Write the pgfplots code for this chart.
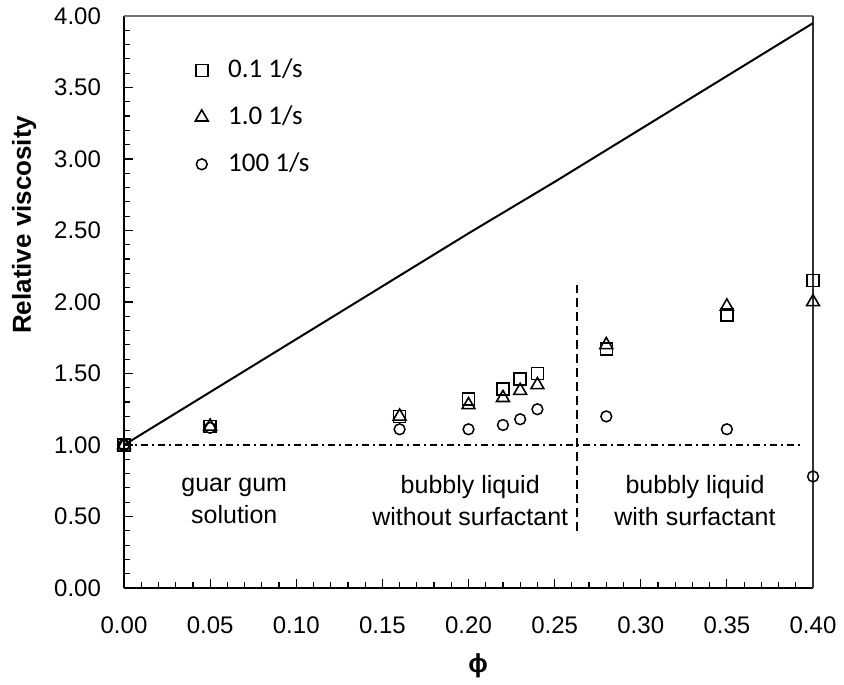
\documentclass[border=0pt]{standalone}
\usepackage{fontspec}
\setmainfont{Liberation Sans}
\newfontfamily\carlito{Carlito}
\usepackage{pgfplots}
\pgfplotsset{compat=1.18}
\begin{document}
\begin{tikzpicture}
\begin{axis}[
  scale only axis, width=344.5pt, height=286pt,
  xmin=0, xmax=0.4, ymin=0, ymax=4, enlargelimits=false, clip=false,
  axis lines=left, axis line style={-, line width=0.75pt, black},
  xtick={0,0.05,0.1,0.15,0.2,0.25,0.3,0.35,0.4},
  ytick={0,0.5,1,1.5,2,2.5,3,3.5,4},
  minor x tick num=4, minor y tick num=4,
  tick align=inside, major tick length=4.5pt, minor tick length=3pt,
  every tick/.style={black, line width=0.6pt},
  /pgf/number format/assume math mode=true,
  /pgf/number format/.cd, fixed, fixed zerofill, precision=2, /pgfplots/.cd,
  tick label style={font=\fontsize{12}{14}\selectfont},
  xticklabel style={yshift=-11pt},
  yticklabel style={xshift=-8pt},
  xlabel={\textbf{ϕ}},
  xlabel style={at={(axis description cs:0.514,0)}, anchor=center, yshift=-39pt, font=\fontsize{13}{15}\selectfont},
  ylabel={\textbf{Relative viscosity}},
  ylabel style={at={(axis description cs:-0.145,0.635)}, anchor=center, font=\fontsize{13}{15}\selectfont},
  legend style={at={(axis description cs:0.103,0.925)}, anchor=north west, draw=none, fill=none,
    inner sep=0pt, row sep=12.5pt, column sep=0pt,
    font=\carlito\fontsize{13.5}{15}\selectfont,
    nodes={inner sep=0pt, text height=9pt, text depth=2pt}},
  legend cell align=left,
  legend image code/.code={\draw[#1] plot coordinates {(3pt,0pt)}; \path (0pt,0pt) (16pt,0pt);},
]
% top and right border
\draw[black!55, line width=0.75pt] (rel axis cs:0,1) -- (rel axis cs:1,1);
\draw[black!80, line width=0.75pt] (rel axis cs:1,1) -- (rel axis cs:1,0);
% bounding box helpers
\coordinate (bbsw) at ([xshift=-62pt,yshift=-47pt]rel axis cs:0,0);
\coordinate (bbne) at ([xshift=15.5pt,yshift=8pt]rel axis cs:1,1);

\addplot[only marks, mark=square, mark size=3pt, mark options={line width=0.75pt, black}] coordinates {
(0,1.00) (0.05,1.13) (0.16,1.20) (0.20,1.32) (0.22,1.39) (0.23,1.46) (0.24,1.50) (0.28,1.67) (0.35,1.91) (0.40,2.15)};
\addlegendentry{0.1 1/s}
\addplot[only marks, mark=triangle, mark size=3.7pt, mark options={line width=0.8pt, black}] coordinates {
(0,1.00) (0.05,1.13) (0.16,1.20) (0.20,1.28) (0.22,1.33) (0.23,1.38) (0.24,1.42) (0.28,1.70) (0.35,1.97) (0.40,2.00)};
\addlegendentry{1.0 1/s}
\addplot[only marks, mark=o, mark size=2.7pt, mark options={line width=0.75pt, black}] coordinates {
(0,1.00) (0.05,1.12) (0.16,1.11) (0.20,1.11) (0.22,1.14) (0.23,1.18) (0.24,1.25) (0.28,1.20) (0.35,1.11) (0.40,0.78)};
\addlegendentry{100 1/s}

\addplot[black, line width=1pt, forget plot] coordinates {
(0,1.00) (0.05,1.37) (0.10,1.74) (0.15,2.11) (0.20,2.48) (0.25,2.84) (0.30,3.21) (0.35,3.58) (0.40,3.95)};
\addplot[black, line width=0.75pt, dash pattern=on 3.5pt off 2pt on 1pt off 2pt, forget plot] coordinates {(0,1) (0.394,1)};
\addplot[black, line width=1pt, dash pattern=on 4.5pt off 2.5pt, forget plot] coordinates {(0.2627,0.40) (0.2627,2.12)};

\node[align=center, font=\fontsize{12.5}{16}\selectfont] at (axis cs:0.064,0.61) {guar gum\\solution};
\node[align=center, font=\fontsize{12.5}{16}\selectfont] at (axis cs:0.201,0.61) {bubbly liquid\\without surfactant};
\node[align=center, font=\fontsize{12.5}{16}\selectfont] at (axis cs:0.3315,0.61) {bubbly liquid\\with surfactant};
\end{axis}
\path (bbsw) rectangle (bbne);
\end{tikzpicture}
\end{document}
